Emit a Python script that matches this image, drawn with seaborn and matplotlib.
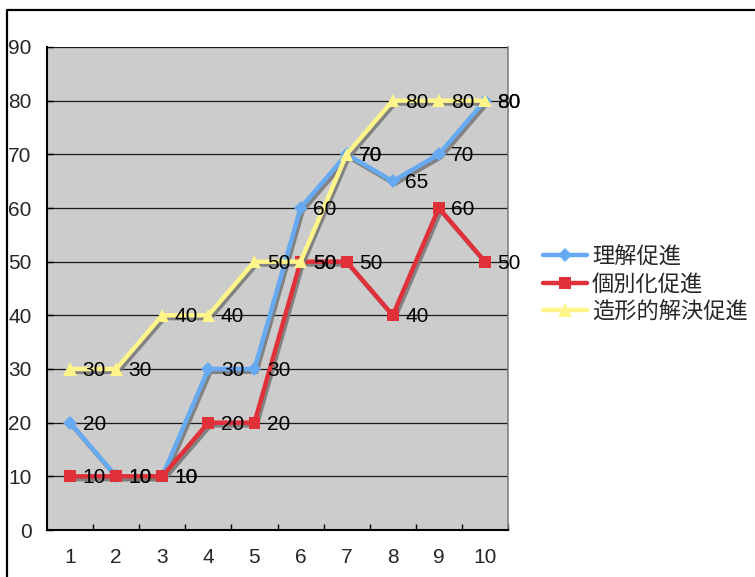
import matplotlib
matplotlib.use("Agg")
import matplotlib.pyplot as plt
import matplotlib.patheffects as pe
from matplotlib.lines import Line2D
from matplotlib.ticker import FixedLocator
import seaborn as sns
import pandas as pd

# --- data ---
rounds = [1, 2, 3, 4, 5, 6, 7, 8, 9, 10]
understanding = [20, 10, 10, 30, 30, 60, 70, 65, 70, 80]
individual = [10, 10, 10, 20, 20, 50, 50, 40, 60, 50]
formative = [30, 30, 40, 40, 50, 50, 70, 80, 80, 80]
series_names = ["理解促進", "個別化促進", "造形的解決促進"]
y_ticks = [0, 10, 20, 30, 40, 50, 60, 70, 80, 90]

series_values = [understanding, individual, formative]
colors = ["#66AAF2", "#E0303A", "#FFF58A"]
markers = ["D", "s", "^"]
marker_sizes = [7, 8.5, 9.5]

sns.set_style("white")
plt.rcParams["font.family"] = ["Liberation Sans", "Noto Sans CJK JP", "DejaVu Sans"]

W, H = 755, 577
fig = plt.figure(figsize=(W / 100, H / 100), dpi=100)
ax = fig.add_axes([47 / W, (H - 530) / H, 461 / W, (530 - 47) / H])
ax.set_facecolor("#CCCCCC")

shadow = [pe.SimpleLineShadow(offset=(1.5, -2), shadow_color="#7a7a7a", alpha=0.9),
          pe.Normal()]

for name, vals, c, m, ms in zip(series_names, series_values, colors, markers, marker_sizes):
    df = pd.DataFrame({"x": rounds, "y": vals})
    sns.lineplot(data=df, x="x", y="y", ax=ax, color=c, linewidth=3.2,
                 marker=m, markersize=ms, markeredgewidth=0, label=name,
                 path_effects=shadow, zorder=3)

# value labels
for vals in series_values:
    for xv, yv in zip(rounds, vals):
        ax.annotate(f"{yv}", (xv, yv), xytext=(9, -1), textcoords="offset points",
                    ha="left", va="center", fontsize=15, color="black", zorder=5,
                    annotation_clip=False)

ax.set_xlim(0.5, 10.5)
ax.set_ylim(0, 90)
ax.set_xlabel("")
ax.set_ylabel("")
ax.set_yticks(y_ticks)
ax.set_xticks(rounds)
ax.xaxis.set_minor_locator(FixedLocator([r + 0.5 for r in rounds]))
ax.yaxis.grid(True, color="#1a1a1a", linewidth=0.9)
ax.set_axisbelow(True)

ax.tick_params(axis="x", which="major", length=0, pad=13, labelsize=15)
ax.tick_params(axis="x", which="minor", direction="in", length=4, width=1, color="black", bottom=True)
ax.tick_params(axis="y", which="major", direction="in", length=4, width=1, color="black",
               pad=11, labelsize=15, left=True)

for s in ["left", "bottom"]:
    ax.spines[s].set_color("black")
    ax.spines[s].set_linewidth(1.5)
ax.spines["top"].set_visible(False)
ax.spines["right"].set_color("#808080")
ax.spines["right"].set_linewidth(1.2)

leg = ax.legend(loc="center left", bbox_to_anchor=(543 / W, 1 - 284 / H),
                bbox_transform=fig.transFigure, frameon=False,
                handlelength=2.0, handletextpad=0.2, labelspacing=0.2,
                borderpad=0, borderaxespad=0, prop={"family": ["Noto Sans CJK JP"], "size": 16})
for h in leg.legend_handles:
    h.set_path_effects([])

# outer chart frame
fig.add_artist(Line2D([7 / W, 7 / W, 1], [0, 1 - 10 / H, 1 - 10 / H],
                      transform=fig.transFigure, color="black", linewidth=1.6))

fig.savefig("out.png", dpi=100)
